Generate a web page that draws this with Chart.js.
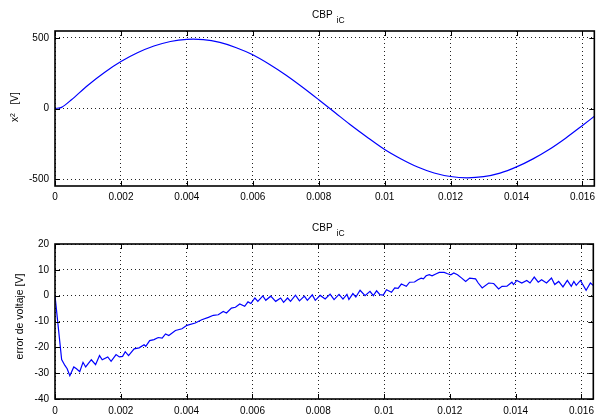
<!DOCTYPE html>
<html>
<head>
<meta charset="utf-8">
<script src="https://cdn.jsdelivr.net/npm/chart.js@4.4.1/dist/chart.umd.min.js"></script>
<style>
body { margin: 0; background: #fff; }
canvas { position: absolute; left: 0; }
</style>
</head>
<body>
<canvas id="top" width="600" height="209" style="top:0px"></canvas>
<canvas id="bot" width="600" height="209" style="top:209px"></canvas>
<script>
// time axis shared by both plots
const xTicks = [0, 0.002, 0.004, 0.006, 0.008, 0.01, 0.012, 0.014, 0.016];
const xTickLabels = ['0', '0.002', '0.004', '0.006', '0.008', '0.01', '0.012', '0.014', '0.016'];
const xMax = 0.01636;

// top plot: x_2 [V]
const tTop = [0, 0.0002, 0.0005, 0.001, 0.0015, 0.002, 0.0025, 0.003, 0.0035, 0.004, 0.0045,
  0.005, 0.0055, 0.006, 0.0065, 0.007, 0.0075, 0.008, 0.0085, 0.009, 0.0095, 0.01,
  0.0105, 0.011, 0.0115, 0.012, 0.0125, 0.013, 0.0135, 0.014, 0.0145, 0.015, 0.0155,
  0.016, 0.0165];
const x2 = [0, 8, 62, 165, 255, 332, 394, 442, 474, 489, 487,
  467, 430, 380, 313, 237, 152, 62, -30, -122, -208, -290,
  -357, -414, -456, -481, -490, -482, -457, -413, -356, -288, -208,
  -120, -30];
const yTicksTop = [-500, 0, 500];

// bottom plot: error de voltaje [V]
const tErr = [0, 0.000202, 0.000301, 0.00037, 0.000451, 0.000571, 0.000653, 0.000752, 0.000851,
  0.000932, 0.001104, 0.001233, 0.001353, 0.001435, 0.001603, 0.001705, 0.001856, 0.001955,
  0.002054, 0.002135, 0.002235, 0.002406, 0.002556, 0.002707, 0.002758, 0.002878, 0.003008,
  0.003137, 0.003257, 0.003359, 0.003459, 0.00366, 0.003859, 0.004009, 0.004262, 0.00446,
  0.004662, 0.004812, 0.004962, 0.005113, 0.005212, 0.005362, 0.005483, 0.005615, 0.005765,
  0.005865, 0.005955, 0.006075, 0.006165, 0.006316, 0.006406, 0.006556, 0.006707, 0.006857,
  0.006947, 0.007068, 0.007158, 0.007308, 0.007429, 0.007579, 0.007669, 0.00782, 0.00791,
  0.00806, 0.008211, 0.008361, 0.008481, 0.008632, 0.008752, 0.008872, 0.008932, 0.009053,
  0.009143, 0.009272, 0.009423, 0.009573, 0.009675, 0.009774, 0.009874, 0.009976, 0.010075,
  0.010226, 0.010325, 0.010427, 0.010526, 0.010677, 0.010776, 0.010926, 0.011029, 0.011128,
  0.011197, 0.011278, 0.011377, 0.011459, 0.011588, 0.011678, 0.011829, 0.011931, 0.01203,
  0.01212, 0.012232, 0.012361, 0.012481, 0.012602, 0.012782, 0.012863, 0.012983, 0.013182,
  0.013332, 0.013483, 0.013585, 0.013735, 0.013886, 0.013934, 0.014036, 0.014186, 0.014337,
  0.014436, 0.014565, 0.014686, 0.014788, 0.014938, 0.015089, 0.015188, 0.015308, 0.015438,
  0.01557, 0.01569, 0.015769, 0.015841, 0.01597, 0.016141, 0.016271, 0.016391];
const errV = [0, -24.7, -27, -28.3, -31, -27.6, -28.3, -29.4, -25.8,
  -27.6, -24.8, -26.7, -23.2, -24.8, -23.7, -25.4, -22.8, -23.7,
  -23.5, -21.7, -23.2, -20.6, -20.2, -19, -19.6, -17.4, -17,
  -16.2, -16.4, -14.8, -15.4, -13.5, -12.8, -11.5, -10.6, -9.3,
  -8.4, -7.6, -7.4, -6.1, -6.7, -4.8, -4.5, -3.2, -4.1,
  -2.4, -3.0, -0.9, -2.2, -0.1, -1.8, -0.2, -2.2, -0.9,
  -2.6, -0.9, -2.2, 0.2, -2.0, -0.2, -1.8, 0.3, -1.8,
  0.1, -1.3, 0.6, -1.5, 0.5, -1.3, 0.5, -1.5, 0.8,
  -0.5, 2.1, 0, 1.7, 0, 1.9, 0.4, 0.2, 2.3,
  1.3, 3.0, 2.8, 4.5, 3.6, 5.2, 5.3, 6.2, 6.8,
  6.5, 7.7, 8.1, 7.7, 8.5, 9.0, 9.0, 8.5, 8.1,
  8.8, 8.1, 6.8, 5.5, 6.8, 6.5, 4.9, 3.0, 4.9,
  4.7, 2.6, 3.6, 3.7, 5.2, 4.3, 5.9, 4.9, 5.9,
  4.9, 7.2, 5.2, 6.2, 4.9, 6.8, 4.3, 5.5, 3.4,
  5.9, 3.6, 5.5, 4.0, 5.9, 2.1, 4.9, 3.6];
const yTicksErr = [-40, -30, -20, -10, 0, 10, 20];

Chart.defaults.font.family = '"Liberation Sans", Arial, Helvetica, sans-serif';
Chart.defaults.color = '#000';

// frame, inward ticks, title and y label, matlab style
function framePlugin(titleY, drawYLabel) {
  return {
    id: 'frame',
    afterDraw(chart) {
      const ctx = chart.ctx;
      const a = chart.chartArea;
      const sx = chart.scales.x, sy = chart.scales.y;
      ctx.save();
      ctx.strokeStyle = '#000';
      ctx.lineWidth = 1;
      ctx.beginPath();
      sx.ticks.forEach(t => {
        const px = Math.round(sx.getPixelForValue(t.value)) + 0.5;
        ctx.moveTo(px, a.bottom); ctx.lineTo(px, a.bottom - 5);
        ctx.moveTo(px, a.top); ctx.lineTo(px, a.top + 5);
      });
      sy.ticks.forEach(t => {
        const py = Math.round(sy.getPixelForValue(t.value)) + 0.5;
        ctx.moveTo(a.left, py); ctx.lineTo(a.left + 5, py);
        ctx.moveTo(a.right, py); ctx.lineTo(a.right - 5, py);
      });
      ctx.stroke();
      ctx.lineWidth = 1.6;
      ctx.strokeRect(a.left, a.top, a.right - a.left, a.bottom - a.top);

      ctx.fillStyle = '#000';
      ctx.textBaseline = 'alphabetic';
      ctx.textAlign = 'left';
      ctx.font = '10px "Liberation Sans", Arial, sans-serif';
      ctx.fillText('CBP', 312, titleY);
      ctx.font = '8.5px "Liberation Sans", Arial, sans-serif';
      ctx.fillText('iC', 336.5, titleY + 5);
      drawYLabel(ctx);
      ctx.restore();
    }
  };
}

function makeChart(id, t, v, yMin, yMax, yTicks, padTop, xHeight, labelPad, plugin) {
  return new Chart(document.getElementById(id), {
    type: 'line',
    data: {
      datasets: [{
        data: t.map((x, i) => ({x: x, y: v[i]})),
        borderColor: '#0000ff',
        borderWidth: 1.2,
        pointRadius: 0,
        tension: id === 'top' ? 0.3 : 0,
        fill: false
      }]
    },
    options: {
      responsive: false,
      animation: false,
      events: [],
      layout: {autoPadding: false, padding: {left: 0, right: 1, top: padTop, bottom: 0}},
      plugins: {legend: {display: false}, tooltip: {enabled: false}, title: {display: false}},
      scales: {
        x: {
          type: 'linear', min: 0, max: xMax,
          afterBuildTicks: s => { s.ticks = xTicks.map(x => ({value: x})); },
          afterFit: s => { s.height = xHeight; },
          grid: {color: '#222', lineWidth: 1, drawTicks: false},
          border: {display: false, dash: [1, 3]},
          ticks: {
            font: {size: 10}, padding: labelPad, maxRotation: 0, autoSkip: false,
            callback: (val, i) => xTickLabels[i]
          }
        },
        y: {
          type: 'linear', min: yMin, max: yMax,
          afterBuildTicks: s => { s.ticks = yTicks.map(x => ({value: x})); },
          afterFit: s => { s.width = 55; },
          grid: {color: '#222', lineWidth: 1, drawTicks: false},
          border: {display: false, dash: [1, 3]},
          ticks: {font: {size: 10}, padding: 6}
        }
      }
    },
    plugins: [plugin]
  });
}

makeChart('top', tTop, x2, -548, 548, yTicksTop, 31, 23, 5,
  framePlugin(18.3, ctx => {
    ctx.translate(18, 0);
    ctx.rotate(-Math.PI / 2);
    ctx.font = '10px "Liberation Sans", Arial, sans-serif';
    ctx.fillText('x', -122, 0);
    ctx.font = '7px "Liberation Sans", Arial, sans-serif';
    ctx.fillText('2', -117, -3);
    ctx.font = '10px "Liberation Sans", Arial, sans-serif';
    ctx.fillText('[V]', -104.5, 0);
  }));

makeChart('bot', tErr, errV, -40, 20, yTicksErr, 35, 19, 6,
  framePlugin(21.7, ctx => {
    ctx.translate(22.5, 107.5);
    ctx.rotate(-Math.PI / 2);
    ctx.textAlign = 'center';
    ctx.font = '10.5px "Liberation Sans", Arial, sans-serif';
    ctx.fillText('error de voltaje [V]', 0, 0);
  }));
</script>
</body>
</html>
